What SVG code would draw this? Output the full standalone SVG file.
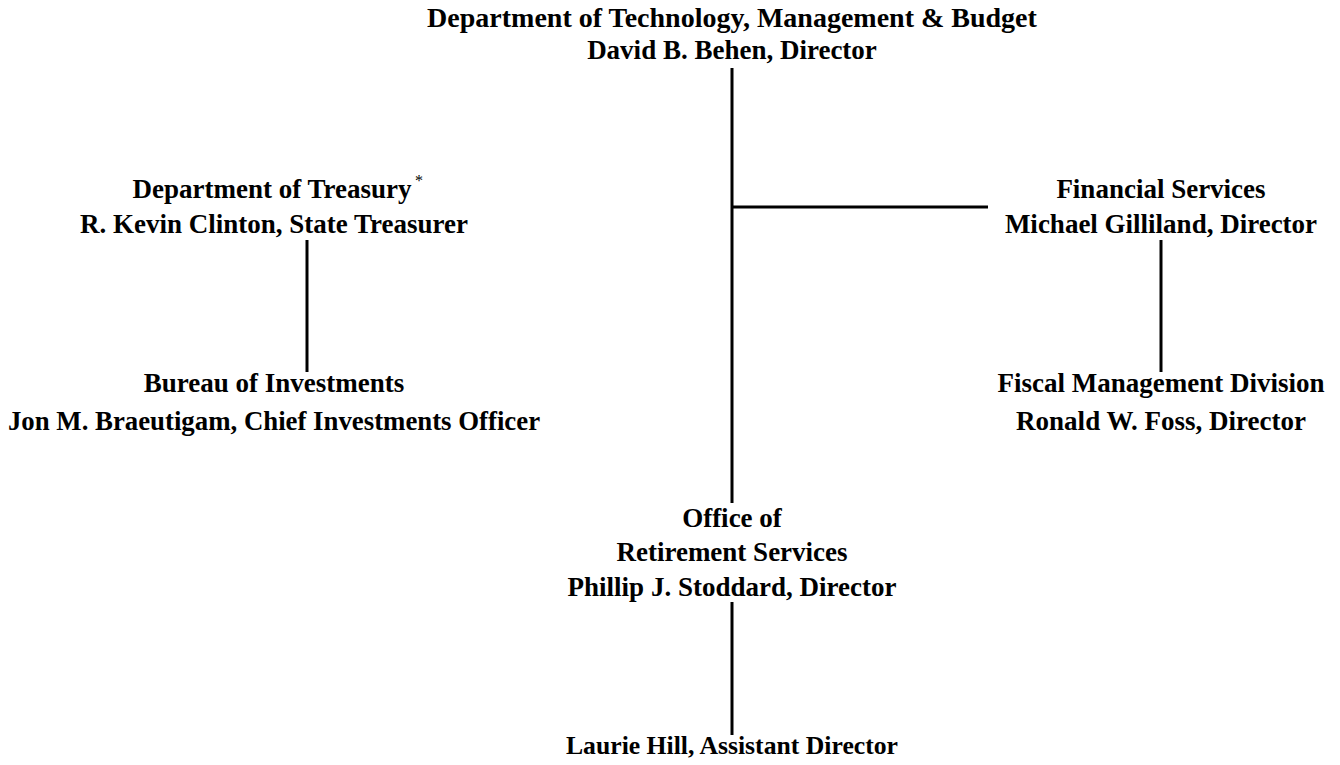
<svg xmlns="http://www.w3.org/2000/svg" width="1340" height="765" viewBox="0 0 1340 765">
<style>
text{font-family:"Liberation Serif","Times New Roman",serif;font-weight:bold;font-size:27px;fill:#000;text-anchor:middle}
.top{font-size:28px}
.sm{font-size:25.7px}
.sup{font-size:16px;font-weight:normal}
#connectors line{stroke:#000;stroke-width:3}
</style>
<rect width="1340" height="765" fill="#fff"/>
<g id="connectors">
<line x1="732" y1="68" x2="732" y2="503"/>
<line x1="732" y1="207" x2="988" y2="207"/>
<line x1="307" y1="240" x2="307" y2="372"/>
<line x1="1161" y1="240" x2="1161" y2="372"/>
<line x1="732" y1="602" x2="732" y2="735"/>
</g>
<g id="dtmb"><text class="top" x="732" y="27">Department of Technology, Management &amp; Budget</text><text x="732" y="59">David B. Behen, Director</text></g>
<g id="treasury"><text x="272" y="198">Department of Treasury</text><text x="419" y="186" class="sup">*</text><text x="274" y="233">R. Kevin Clinton, State Treasurer</text></g>
<g id="financial"><text x="1161" y="198">Financial Services</text><text x="1161" y="233">Michael Gilliland, Director</text></g>
<g id="bureau"><text x="274" y="392">Bureau of Investments</text><text x="274" y="430" style="font-size:26.8px">Jon M. Braeutigam, Chief Investments Officer</text></g>
<g id="fiscal"><text x="1161" y="392">Fiscal Management Division</text><text x="1161" y="430">Ronald W. Foss, Director</text></g>
<g id="ors"><text x="732" y="527">Office of</text><text x="732" y="561">Retirement Services</text><text x="732" y="596">Phillip J. Stoddard, Director</text></g>
<g id="hill"><text class="sm" x="732" y="754">Laurie Hill, Assistant Director</text></g>
</svg>
